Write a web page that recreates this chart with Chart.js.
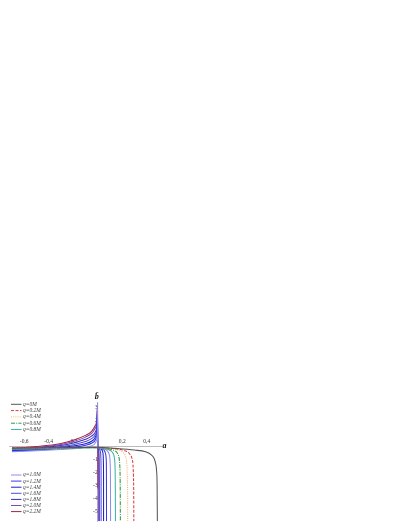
<!DOCTYPE html>
<html>
<head>
<meta charset="utf-8">
<script src="https://cdn.jsdelivr.net/npm/chart.js@4.4.0/dist/chart.umd.min.js"></script>
<style>
  html, body { margin: 0; padding: 0; background: #fff; }
  canvas { display: block; }
</style>
</head>
<body>
<canvas id="chart" width="407" height="527"></canvas>
<script>
// legend labels, one per curve
const qLabels = ['q=0M', 'q=0.2M', 'q=0.4M', 'q=0.6M', 'q=0.8M',
                 'q=1.0M', 'q=1.2M', 'q=1.4M', 'q=1.6M', 'q=1.8M', 'q=2.0M', 'q=2.2M'];

// [a, b] points
const curveQ00 = [[-0.7,-0.12],[-0.4,-0.1],[-0.1,-0.07],[0,-0.06],[0.14,-0.14],[0.3,-0.27],[0.39,-0.4],
                  [0.44,-0.65],[0.46,-0.9],[0.473,-1.3],[0.481,-1.9],[0.485,-3],[0.487,-5.7]];
const curveQ02 = [[-0.7,-0.1],[-0.4,-0.09],[-0.1,-0.08],[0,-0.08],[0.1,-0.13],[0.18,-0.22],[0.23,-0.35],
                  [0.26,-0.55],[0.278,-0.85],[0.288,-1.4],[0.292,-2.3],[0.294,-3.5],[0.295,-5.7]];
const curveQ04 = [[-0.7,-0.13],[-0.3,-0.1],[0,-0.08],[0.08,-0.13],[0.15,-0.22],[0.19,-0.35],[0.215,-0.55],
                  [0.23,-0.85],[0.238,-1.4],[0.242,-2.3],[0.244,-3.5],[0.245,-5.7]];
const curveQ06 = [[-0.7,-0.16],[-0.3,-0.12],[0,-0.09],[0.06,-0.13],[0.11,-0.22],[0.145,-0.35],[0.163,-0.55],
                  [0.174,-0.85],[0.18,-1.4],[0.183,-2.3],[0.184,-3.5],[0.185,-5.7]];
const curveQ08 = [[-0.7,-0.2],[-0.3,-0.14],[0,-0.1],[0.05,-0.14],[0.085,-0.22],[0.112,-0.35],[0.127,-0.55],
                  [0.136,-0.85],[0.141,-1.4],[0.143,-2.3],[0.144,-3.5],[0.145,-5.7]];
const curveQ10 = [[-0.7,-0.4],[-0.5,-0.32],[-0.3,-0.22],[-0.15,-0.12],[-0.07,0],[-0.03,0.15],[-0.01,0.45],
                  [-0.003,1.2],[-0.001,3.35],[0,-0.05],[0.03,-0.14],[0.06,-0.22],[0.08,-0.35],[0.092,-0.55],
                  [0.099,-0.85],[0.102,-1.4],[0.104,-2.3],[0.1045,-3.5],[0.105,-5.7]];
const curveQ12 = [[-0.7,-0.36],[-0.5,-0.27],[-0.3,-0.14],[-0.2,-0.05],[-0.1,0.1],[-0.05,0.25],[-0.02,0.5],
                  [-0.008,0.9],[-0.002,1.6],[0,-0.05],[0.02,-0.12],[0.04,-0.2],[0.055,-0.33],[0.064,-0.55],
                  [0.069,-0.9],[0.071,-1.6],[0.0715,-2.6],[0.072,-5.7]];
const curveQ14 = [[-0.7,-0.32],[-0.5,-0.22],[-0.3,-0.07],[-0.2,0.04],[-0.1,0.22],[-0.05,0.4],[-0.02,0.7],
                  [-0.008,1.1],[-0.002,2.0],[0,-0.05],[0.015,-0.12],[0.03,-0.22],[0.04,-0.38],[0.045,-0.7],
                  [0.047,-1.4],[0.0478,-2.6],[0.048,-5.7]];
const curveQ16 = [[-0.7,-0.28],[-0.5,-0.17],[-0.3,0.01],[-0.2,0.14],[-0.1,0.38],[-0.05,0.6],[-0.02,0.9],
                  [-0.008,1.3],[-0.002,2.3],[0,-0.05],[0.01,-0.13],[0.018,-0.25],[0.024,-0.5],[0.027,-1.2],
                  [0.0278,-2.5],[0.028,-5.7]];
const curveQ18 = [[-0.7,-0.24],[-0.5,-0.12],[-0.3,0.08],[-0.2,0.27],[-0.1,0.55],[-0.05,0.8],[-0.02,1.1],
                  [-0.008,1.5],[-0.002,2.6],[0,-0.05],[0.006,-0.15],[0.01,-0.4],[0.012,-1.2],[0.0128,-2.6],
                  [0.013,-5.7]];
const curveQ20 = [[-0.7,-0.2],[-0.5,-0.06],[-0.3,0.16],[-0.2,0.39],[-0.1,0.72],[-0.05,1.0],[-0.02,1.4],
                  [-0.008,1.8],[-0.002,2.9],[0,-0.05],[0.003,-0.3],[0.0045,-1.5],[0.005,-5.7]];
const curveQ22 = [[-0.7,-0.15],[-0.5,0],[-0.3,0.24],[-0.2,0.48],[-0.1,0.85],[-0.05,1.15],[-0.02,1.6],
                  [-0.008,2.0],[-0.002,3.1],[0,-0.05],[0.001,-0.5],[0.0015,-3.2]];

const curves = [curveQ00, curveQ02, curveQ04, curveQ06, curveQ08, curveQ10,
                curveQ12, curveQ14, curveQ16, curveQ18, curveQ20, curveQ22];

const xTickValues = [-0.6, -0.4, -0.2, 0.2, 0.4];
const xTickLabels = ['-0,6', '-0,4', '-0,2', '0,2', '0,4'];
const yTickValues = [3, 2, 1, -1, -2, -3, -4, -5];

// line look per curve
const lineColors = ['#555555', '#e23a3a', '#f4b26a', '#2f9a35', '#3fb3a4',
                    '#8c8cf2', '#3a3ae2', '#1e1ec8', '#4c4ce0', '#3a2cb2', '#8048ac', '#a4243c'];
const lineDashes = [[], [3, 1.5], [1, 1.2], [4, 1.2, 1, 1.2], [],
                    [], [], [], [], [], [], []];

const datasets = curves.map((pts, i) => ({
    label: qLabels[i],
    data: pts.map(p => ({ x: p[0], y: p[1] })),
    showLine: true,
    borderColor: lineColors[i],
    borderDash: lineDashes[i],
    borderWidth: 1.05,
    pointRadius: 0,
    cubicInterpolationMode: 'monotone',
    fill: false
}));

// two legend blocks on the left, drawn from the datasets
const sideLegend = {
    id: 'sideLegend',
    afterDraw(chart) {
        const ctx = chart.ctx;
        chart.data.datasets.forEach((ds, i) => {
            const y = i < 5 ? 404.3 + i * 6.3 : 475 + (i - 5) * 6.1;
            ctx.save();
            ctx.strokeStyle = ds.borderColor;
            ctx.lineWidth = 1;
            ctx.setLineDash(ds.borderDash || []);
            ctx.beginPath();
            ctx.moveTo(11, y);
            ctx.lineTo(21.5, y);
            ctx.stroke();
            ctx.setLineDash([]);
            ctx.fillStyle = '#444';
            ctx.font = 'italic 5.5px "Liberation Serif"';
            ctx.textBaseline = 'middle';
            ctx.fillText(ds.label, 23, y);
            ctx.restore();
        });
    }
};

// axis names: a at the right end of the x axis, b-bar above the y axis
const axisNames = {
    id: 'axisNames',
    afterDraw(chart) {
        const ctx = chart.ctx;
        const xs = chart.scales.x, ys = chart.scales.y;
        ctx.save();
        ctx.fillStyle = '#111';
        ctx.font = 'italic bold 8px "Liberation Serif"';
        ctx.textBaseline = 'middle';
        ctx.textAlign = 'left';
        ctx.fillText('a', xs.right + 1, ys.getPixelForValue(0) - 1);
        ctx.textAlign = 'center';
        ctx.fillText('b\u0304', xs.getPixelForValue(0) - 1, ys.top - 5);
        ctx.restore();
    }
};

Chart.defaults.font.family = '"Liberation Serif", serif';

new Chart(document.getElementById('chart'), {
    type: 'scatter',
    data: { datasets },
    options: {
        responsive: false,
        animation: false,
        layout: { padding: { left: 9.5, right: 245.6, top: 402, bottom: 5.8 } },
        plugins: { legend: { display: false }, tooltip: { enabled: false } },
        scales: {
            x: {
                type: 'linear',
                min: -0.72,
                max: 0.52,
                position: { y: 0 },
                afterBuildTicks: scale => { scale.ticks = xTickValues.map(v => ({ value: v })); },
                ticks: {
                    padding: -8.3,
                    color: '#333',
                    font: { size: 5.5 },
                    callback: v => xTickLabels[xTickValues.indexOf(v)]
                },
                grid: { display: false, drawTicks: false },
                border: { display: true, color: '#aaaaaa', width: 0.8 }
            },
            y: {
                type: 'linear',
                min: -5.7,
                max: 3.4,
                position: { x: 0 },
                afterBuildTicks: scale => { scale.ticks = yTickValues.map(v => ({ value: v })); },
                ticks: {
                    padding: 1.5,
                    color: '#333',
                    font: { size: 5.5 },
                    callback: v => String(v)
                },
                grid: { display: false, drawTicks: false },
                border: { display: true, color: '#b0b0d8', width: 0.8 }
            }
        }
    },
    plugins: [sideLegend, axisNames]
});
</script>
</body>
</html>
